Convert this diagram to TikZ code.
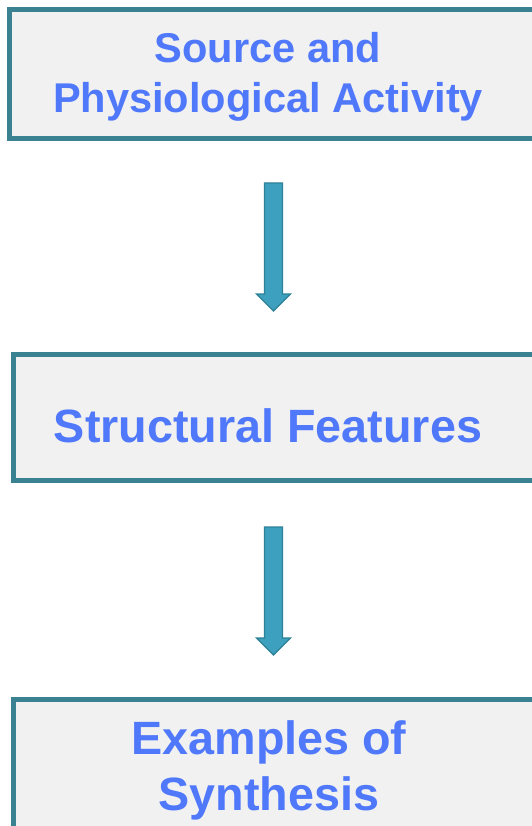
\documentclass[tikz,border=0pt]{standalone}
\usepackage{fontspec}
\setmainfont{Liberation Sans}
\definecolor{boxline}{RGB}{58,130,146}
\definecolor{boxfill}{RGB}{241,241,241}
\definecolor{txtblue}{RGB}{80,120,250}
\definecolor{arrfill}{RGB}{60,160,190}
\definecolor{arrline}{RGB}{46,130,152}
\tikzset{
  boxst/.style={draw=boxline, fill=boxfill, line width=5pt, rectangle, inner sep=0pt, outer sep=0pt},
  txtsmall/.style={text=txtblue, font=\fontsize{41.6}{50}\selectfont\bfseries, align=center, inner sep=0pt, anchor=base},
  txtbig/.style={text=txtblue, font=\fontsize{46.7}{56}\selectfont\bfseries, align=center, inner sep=0pt, anchor=base},
  blockarrow/.style={fill=arrfill, draw=arrline, line width=1.2pt, line join=miter}
}
\begin{document}
\begin{tikzpicture}[x=1pt,y=-1pt]
\useasboundingbox (0,0) rectangle (531,826);
\fill[white] (0,0) rectangle (531,826);
% boxes
\node[boxst, minimum width=535.5pt, minimum height=129pt] (b1) at (277.25,74) {};
\node[boxst, minimum width=531.5pt, minimum height=126pt] (b2) at (279.25,417.5) {};
\node[boxst, minimum width=531.5pt, minimum height=150.5pt] (b3) at (279.25,774.75) {};
% texts (base anchor = baseline of last line)
\node[txtsmall] (t1) at (268,113) {Source and\\Physiological Activity};
\node[txtbig] (t2) at (268,442) {Structural Features};
\node[txtbig] (t3) at (269,810) {Examples of\\Synthesis};
% arrow end points
\coordinate (a1s) at (273.5,183);
\coordinate (a1e) at (273.5,311);
\coordinate (a2s) at (273.5,527);
\coordinate (a2e) at (273.5,655);
\foreach \s/\e in {a1s/a1e, a2s/a2e}{
  \draw[blockarrow] ([xshift=-9pt]\s) -- ([xshift=9pt]\s) -- ([xshift=9pt,yshift=17pt]\e)
    -- ([xshift=17pt,yshift=17pt]\e) -- (\e) -- ([xshift=-17pt,yshift=17pt]\e)
    -- ([xshift=-9pt,yshift=17pt]\e) -- cycle;
}
\end{tikzpicture}
\end{document}
